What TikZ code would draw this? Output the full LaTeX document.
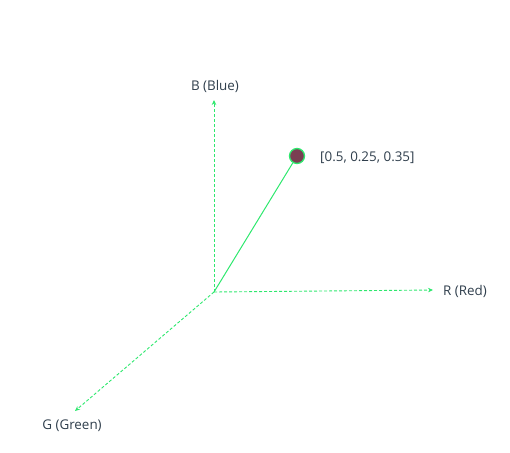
\documentclass[tikz,border=0pt]{standalone}
\usepackage{fontspec}
\setmainfont{Open Sans}
\usetikzlibrary{arrows.meta}
\definecolor{axisgreen}{HTML}{2EE86E}
\definecolor{txt}{HTML}{2F3E4C}
\definecolor{ptfill}{HTML}{7A3F52}
\tikzset{
  axisline/.style={axisgreen, line width=0.9pt, dash pattern=on 3pt off 2pt, -{Stealth[length=5pt,width=4.5pt]}},
  vecline/.style={axisgreen, line width=1pt},
  lbl/.style={text=txt, font=\fontsize{13.4}{15}\selectfont, inner sep=0pt},
  ptmark/.style={circle, fill=ptfill, draw=axisgreen, line width=1.3pt, minimum size=15pt, inner sep=0pt}
}
\begin{document}
\begin{tikzpicture}[x=1pt,y=-1pt]
\useasboundingbox (0,0) rectangle (510,452);
\coordinate (o) at (214,292);
\coordinate (bt) at (214,100);
\coordinate (rt) at (433,290);
\coordinate (gt) at (75,411);
\node[ptmark] (p) at (297,156) {};
\draw[axisline] (o) -- (bt);
\draw[axisline] (o) -- (rt);
\draw[axisline] (o) -- (gt);
\draw[vecline] (o) -- (p);
\node[lbl] (bl) at (215,86) {B (Blue)};
\node[lbl, anchor=west] (pl) at (320,158) {[0.5, 0.25, 0.35]};
\node[lbl, anchor=west] (rl) at (443,291) {R (Red)};
\node[lbl] (gl) at (72,426) {G (Green)};
\end{tikzpicture}
\end{document}
